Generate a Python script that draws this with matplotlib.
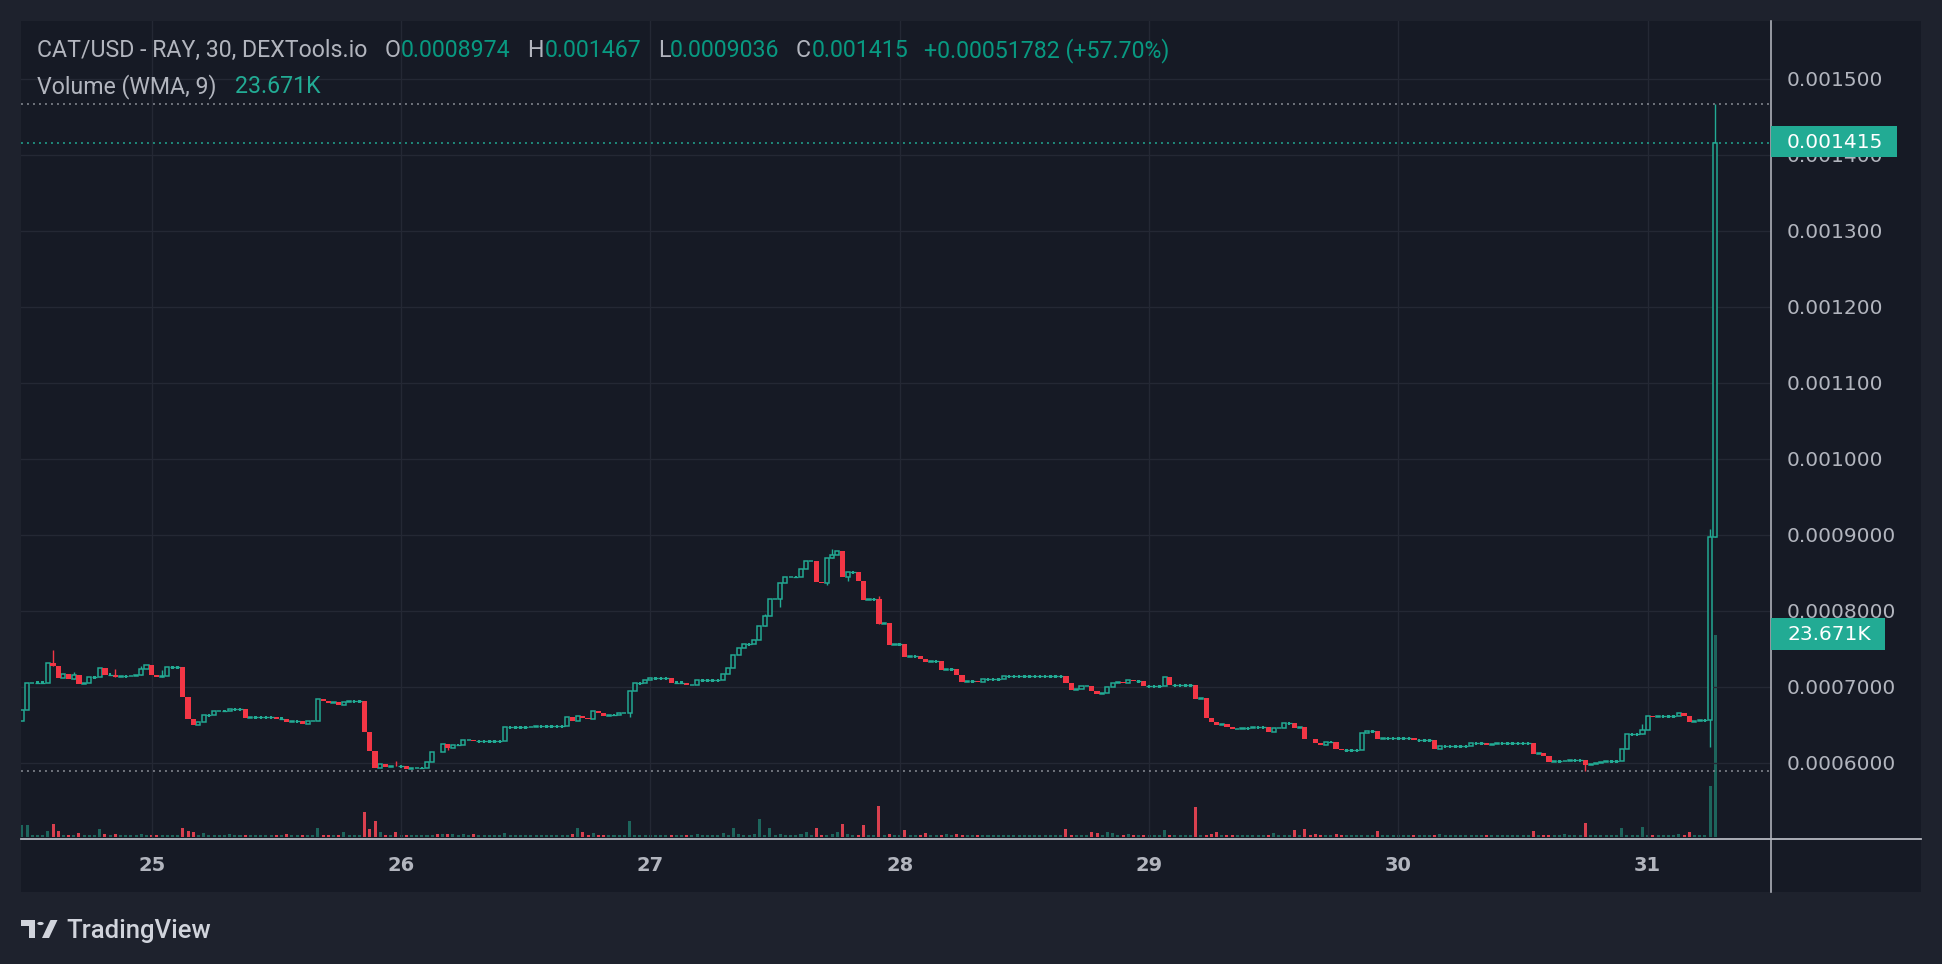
import numpy as np
import matplotlib
matplotlib.use('Agg')
import matplotlib.pyplot as plt
from matplotlib.patches import Rectangle, Circle, Polygon
from matplotlib.lines import Line2D

# ---------------- data (30-min candles, prices in units of 1e-7 USD) ----------------
PRICE_UNIT = 1e-7
first_index = -25              # first candle is 25 candles before day 25, 00:00
candles_per_day = 48
day_labels = ['25', '26', '27', '28', '29', '30', '31']
first_open = 6553
last_open = 8974

closes = [
    6693, 7044, 7053, 7053, 7053, 7307, 7276, 7118, 7167, 7101,
    7154, 7040, 7053, 7123, 7123, 7241, 7158, 7158, 7132, 7136,
    7136, 7140, 7149, 7228, 7281, 7158, 7132, 7140, 7254, 7254,
    7254, 6868, 6579, 6500, 6531, 6623, 6623, 6675, 6680, 6680,
    6702, 6702, 6702, 6592, 6596, 6596, 6596, 6596, 6596, 6579,
    6579, 6539, 6544, 6544, 6513, 6544, 6548, 6833, 6811, 6789,
    6803, 6759, 6803, 6807, 6807, 6807, 6404, 6154, 5930, 5982,
    5943, 5956, 5952, 5952, 5921, 5925, 5930, 5930, 6009, 6140,
    6136, 6246, 6197, 6232, 6232, 6294, 6298, 6281, 6281, 6281,
    6281, 6281, 6281, 6465, 6465, 6465, 6465, 6465, 6474, 6478,
    6478, 6478, 6478, 6478, 6478, 6596, 6553, 6610, 6583, 6575,
    6680, 6658, 6618, 6627, 6627, 6649, 6658, 6939, 7044, 7044,
    7088, 7110, 7110, 7110, 7110, 7053, 7053, 7053, 7018, 7026,
    7083, 7083, 7083, 7083, 7083, 7162, 7241, 7417, 7504, 7557,
    7557, 7610, 7794, 7930, 8149, 8154, 8364, 8439, 8447, 8447,
    8544, 8649, 8654, 8377, 8368, 8689, 8733, 8781, 8443, 8504,
    8504, 8390, 8140, 8149, 8149, 7829, 7833, 7548, 7557, 7557,
    7395, 7399, 7399, 7368, 7329, 7333, 7333, 7224, 7228, 7228,
    7158, 7066, 7070, 7070, 7057, 7097, 7097, 7097, 7097, 7136,
    7136, 7136, 7136, 7136, 7136, 7136, 7136, 7136, 7136, 7136,
    7136, 7048, 6956, 6965, 7004, 7009, 6947, 6908, 6912, 6991,
    7053, 7057, 7044, 7083, 7070, 7070, 7004, 7004, 7004, 7004,
    7127, 7018, 7018, 7018, 7018, 7018, 6842, 6846, 6592, 6539,
    6500, 6504, 6465, 6443, 6447, 6452, 6452, 6465, 6465, 6465,
    6408, 6452, 6456, 6518, 6518, 6461, 6465, 6316, 6307, 6263,
    6237, 6272, 6272, 6184, 6162, 6162, 6162, 6162, 6390, 6412,
    6412, 6316, 6320, 6320, 6320, 6320, 6320, 6320, 6294, 6294,
    6294, 6294, 6184, 6215, 6215, 6215, 6215, 6215, 6215, 6254,
    6254, 6254, 6228, 6250, 6254, 6254, 6254, 6254, 6254, 6254,
    6254, 6118, 6123, 6092, 6013, 6018, 6018, 6026, 6031, 6031,
    6031, 5974, 5978, 6000, 6009, 6018, 6018, 6018, 6175, 6373,
    6373, 6373, 6425, 6610, 6606, 6610, 6610, 6610, 6610, 6649,
    6618, 6539, 6553, 6557, 6557, 8972, 14150,
]

volumes = [
    1400, 1400, 230, 230, 230, 700, 1520, 700, 230, 230,
    230, 470, 230, 230, 230, 940, 350, 230, 350, 230,
    230, 230, 230, 350, 230, 230, 230, 230, 230, 230,
    230, 1050, 700, 590, 230, 470, 230, 230, 230, 230,
    350, 230, 230, 230, 230, 230, 230, 230, 230, 230,
    230, 350, 230, 230, 230, 230, 230, 1050, 230, 230,
    230, 230, 590, 230, 230, 230, 2930, 940, 1875, 590,
    230, 230, 590, 230, 230, 230, 230, 230, 230, 230,
    350, 350, 350, 350, 230, 350, 230, 350, 230, 230,
    230, 230, 230, 470, 230, 230, 230, 230, 230, 230,
    230, 230, 230, 230, 230, 230, 350, 1050, 590, 230,
    470, 230, 230, 230, 230, 230, 230, 1875, 230, 230,
    230, 230, 230, 230, 230, 230, 230, 230, 230, 230,
    350, 230, 230, 230, 230, 470, 230, 1050, 350, 230,
    230, 350, 2100, 230, 1050, 230, 350, 230, 230, 230,
    350, 590, 230, 1050, 230, 230, 350, 590, 1520, 350,
    230, 230, 1400, 230, 230, 3630, 230, 350, 230, 230,
    820, 230, 230, 230, 470, 230, 230, 230, 350, 230,
    350, 230, 230, 230, 230, 230, 230, 230, 230, 230,
    230, 230, 230, 230, 230, 230, 230, 230, 230, 230,
    230, 940, 230, 230, 230, 230, 590, 470, 230, 590,
    470, 230, 230, 350, 230, 230, 230, 230, 230, 230,
    820, 230, 230, 230, 230, 230, 3515, 230, 230, 350,
    590, 230, 230, 230, 230, 230, 230, 230, 230, 230,
    230, 470, 230, 230, 230, 820, 230, 940, 230, 350,
    230, 230, 230, 350, 230, 230, 230, 230, 230, 230,
    230, 700, 230, 230, 230, 230, 230, 230, 230, 230,
    230, 230, 230, 350, 230, 230, 230, 230, 230, 230,
    230, 230, 230, 230, 230, 230, 230, 230, 230, 230,
    230, 700, 230, 230, 230, 230, 230, 350, 230, 230,
    230, 1640, 230, 230, 230, 230, 230, 230, 1050, 230,
    230, 230, 1170, 230, 230, 230, 230, 230, 230, 350,
    230, 590, 230, 230, 230, 5975, 23671,
]

wick_highs = {-19: 7482, -15: 7193, -7: 7232, -2: 7272, 2: 7219, 47: 6022,
              118: 7956, 131: 8807, 140: 8193, 287: 6509, 300: 9075, 301: 14670}
wick_lows = {57: 6171, 92: 6605, 121: 8053, 130: 8342, 134: 8390,
             276: 5890, 300: 6210, 301: 9036}

price_ticks = [6000, 7000, 8000, 9000, 10000, 11000, 12000, 13000, 14000, 15000]
price_tick_labels = ['0.0006000', '0.0007000', '0.0008000', '0.0009000', '0.001000',
                     '0.001100', '0.001200', '0.001300', '0.001400', '0.001500']

header_items = [  # (text, x px, colour key)
    ('CAT/USD - RAY, 30, DEXTools.io', 37, 'txt'),
    ('O', 385, 'txt'), ('0.0008974', 401, 'val'),
    ('H', 527, 'txt'), ('0.001467', 545, 'val'),
    ('L', 658, 'txt'), ('0.0009036', 670, 'val'),
    ('C', 796, 'txt'), ('0.001415', 812, 'val'),
    ('+0.00051782 (+57.70%)', 924, 'val'),
]
volume_legend = [('Volume (WMA, 9)', 37, 'txt'), ('23.671K', 235, 'vol')]
last_price_label = '0.001415'
last_volume_label = '23.671K'

# ---------------- styling ----------------
W, H, DPI = 1942, 964, 100
OUTER = '#1e222d'
PANE = '#161a25'
GRID = '#242834'
TXT = '#b2b5be'
GREEN = '#22ab94'
RED = '#f23645'
VAL = '#089981'
GREEN_V = '#1d655c'
RED_V = '#d9404f'

def fx(px): return px / W
def fy(py): return 1 - py / H
def pt(px): return px * 72.0 / DPI

fig = plt.figure(figsize=(W / DPI, H / DPI), dpi=DPI, facecolor=OUTER)
fig.add_artist(Rectangle((fx(21), fy(892)), 1900 / W, 871 / H, transform=fig.transFigure,
                         facecolor=PANE, edgecolor='none', zorder=-5))

ax = fig.add_axes([fx(21), fy(838), 1750 / W, 817 / H])
ax2 = ax.twinx()
ax.set_zorder(2)
ax2.set_zorder(1)
for a in (ax, ax2):
    a.patch.set_visible(False)
    for s in a.spines.values():
        s.set_visible(False)

px_per_candle = 249.33 / candles_per_day
x_left = (21 - 151.7) / px_per_candle
x_right = (1771 - 151.7) / px_per_candle
ax.set_xlim(x_left, x_right)
ax.set_ylim(5009 * PRICE_UNIT, 15759 * PRICE_UNIT)
vol_per_px = volumes[-1] / 202.0
ax2.set_ylim(-1 * vol_per_px, 816 * vol_per_px)
ax2.yaxis.set_visible(False)

c = np.array(closes, dtype=float) * PRICE_UNIT
o = np.concatenate([[first_open], closes[:-1]]).astype(float) * PRICE_UNIT
o[-1] = last_open * PRICE_UNIT
x = np.arange(first_index, first_index + len(closes))
hi = np.maximum(o, c)
lo = np.minimum(o, c)
for k, v in wick_highs.items():
    hi[k - first_index] = max(hi[k - first_index], v * PRICE_UNIT)
for k, v in wick_lows.items():
    lo[k - first_index] = min(lo[k - first_index], v * PRICE_UNIT)

eps = 1.5 * PRICE_UNIT
up = c > o + eps
down = c < o - eps
doji = ~(up | down)

# grid
for p in price_ticks:
    ax.axhline(p * PRICE_UNIT, color=GRID, lw=pt(1.3), zorder=0.5)
day_pos = [i * candles_per_day for i in range(len(day_labels))]
for d in day_pos:
    ax.axvline(d, color=GRID, lw=pt(1.3), zorder=0.5)

# volume
vcol = [RED_V if cc < oo - eps else GREEN_V for cc, oo in zip(c, o)]
ax2.bar(x, volumes, width=0.58, color=vcol, linewidth=0, zorder=1)

# wicks
has_wick = (hi > np.maximum(o, c) + 1e-12) | (lo < np.minimum(o, c) - 1e-12)
wcol = np.where(down, RED, GREEN)
ax.vlines(x[has_wick], lo[has_wick], hi[has_wick], colors=list(wcol[has_wick]),
          lw=pt(1.4), zorder=3)
# bodies
ax.bar(x[up], (c - o)[up], bottom=o[up], width=0.78, facecolor=PANE,
       edgecolor=GREEN, linewidth=pt(1.5), zorder=4)
ax.bar(x[down], (o - c)[down], bottom=c[down], width=1.0, color=RED,
       linewidth=0, zorder=4)
dcol = np.where(c < o, RED, GREEN)
ax.hlines(c[doji], x[doji] - 0.5, x[doji] + 0.5, colors=list(dcol[doji]), lw=pt(1.3), zorder=4)
ax.scatter(x[doji], c[doji], marker='s', s=pt(2.4) ** 2, c=list(dcol[doji]),
           linewidths=0, zorder=4)

# range lines and last price line
dot = (0, (1.3, 2.7))
ax.axhline(hi.max(), color='#8b8e97', lw=pt(1.5), ls=dot, zorder=2)
ax.axhline(lo.min(), color='#8b8e97', lw=pt(1.5), ls=dot, zorder=2)
ax.axhline(c[-1], color=GREEN, lw=pt(1.5), ls=dot, zorder=2)

# axes ticks
ax.yaxis.tick_right()
ax.set_yticks([p * PRICE_UNIT for p in price_ticks])
ax.set_yticklabels(price_tick_labels)
ax.tick_params(axis='y', length=0, pad=pt(16), labelsize=14.5, labelcolor=TXT)
ax.set_xticks(day_pos)
ax.set_xticklabels(day_labels)
ax.tick_params(axis='x', length=0, pad=pt(18), labelsize=14, labelcolor=TXT)
for lab in ax.get_xticklabels():
    lab.set_fontweight('bold')

# separators
fig.add_artist(Line2D([fx(21), fx(1921)], [fy(839), fy(839)], color='#b7bac2',
                      lw=pt(1.8), zorder=6))
fig.add_artist(Line2D([fx(1771), fx(1771)], [fy(21), fy(892)], color='#b2b5be',
                      lw=pt(1.6), zorder=6))

# last value boxes
fig.add_artist(Rectangle((fx(1771), fy(157)), 126 / W, 31 / H, transform=fig.transFigure,
                         facecolor=GREEN, edgecolor='none', zorder=10))
fig.text(fx(1787), fy(142), last_price_label, color='white', fontsize=14.5,
         va='center', ha='left', zorder=11)
fig.add_artist(Rectangle((fx(1771), fy(650)), 114 / W, 32 / H, transform=fig.transFigure,
                         facecolor=GREEN, edgecolor='none', zorder=10))
fig.text(fx(1787), fy(634), last_volume_label, color='white', fontsize=14.5,
         va='center', ha='left', zorder=11)

# header legend
cols = {'txt': TXT, 'val': VAL, 'vol': GREEN}
for t, xp, ck in header_items:
    fig.text(fx(xp), fy(57), t, color=cols[ck], fontsize=16.7, family='Roboto',
             va='baseline', ha='left', zorder=12)
for t, xp, ck in volume_legend:
    fig.text(fx(xp), fy(93), t, color=cols[ck], fontsize=16.7, family='Roboto',
             va='baseline', ha='left', zorder=12)

# TradingView logo
LOGO = '#d1d4dc'
tf = fig.transFigure
fig.add_artist(Rectangle((fx(21), fy(926)), 14 / W, 6 / H, transform=tf, facecolor=LOGO, edgecolor='none'))
fig.add_artist(Rectangle((fx(28.5), fy(938)), 6.5 / W, 18 / H, transform=tf, facecolor=LOGO, edgecolor='none'))
fig.add_artist(Circle((fx(40.5), fy(923.5)), 3.2 / W, transform=tf, facecolor=LOGO, edgecolor='none'))
fig.add_artist(Polygon([(fx(42), fy(938)), (fx(49), fy(938)), (fx(57.5), fy(920)), (fx(50.5), fy(920))],
                       closed=True, transform=tf, facecolor=LOGO, edgecolor='none'))
fig.text(fx(66), fy(938), 'TradingView', color=LOGO, fontsize=18.5, family='Roboto',
         fontweight='medium', va='baseline', ha='left')

fig.savefig('out.png', dpi=DPI, facecolor=OUTER)
